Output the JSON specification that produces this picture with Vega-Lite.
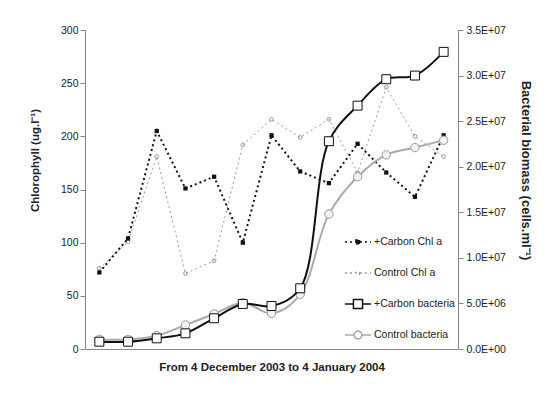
{
  "$schema": "https://vega.github.io/schema/vega-lite/v6.json",
  "width": 373,
  "height": 319,
  "autosize": {"type": "none"},
  "padding": {"left": 85, "top": 30, "right": 88, "bottom": 45},
  "background": "white",
  "config": {
    "font": "Liberation Sans",
    "view": {"stroke": null},
    "axis": {"grid": false, "domainColor": "#888", "tickColor": "#888", "labelColor": "#222", "titleColor": "#222", "labelFontSize": 10.5, "titleFontSize": 11.5, "titleFontWeight": "bold", "labelFont": "Liberation Sans", "titleFont": "Liberation Sans"}
  },
  "data": {"values": [
    {"day": 1, "series": "+Carbon Chl a", "value": 72},
    {"day": 2, "series": "+Carbon Chl a", "value": 104},
    {"day": 3, "series": "+Carbon Chl a", "value": 205},
    {"day": 4, "series": "+Carbon Chl a", "value": 151},
    {"day": 5, "series": "+Carbon Chl a", "value": 162},
    {"day": 6, "series": "+Carbon Chl a", "value": 100},
    {"day": 7, "series": "+Carbon Chl a", "value": 201},
    {"day": 8, "series": "+Carbon Chl a", "value": 167},
    {"day": 9, "series": "+Carbon Chl a", "value": 156},
    {"day": 10, "series": "+Carbon Chl a", "value": 193},
    {"day": 11, "series": "+Carbon Chl a", "value": 166},
    {"day": 12, "series": "+Carbon Chl a", "value": 143},
    {"day": 13, "series": "+Carbon Chl a", "value": 201},
    {"day": 1, "series": "Control Chl a", "value": 76},
    {"day": 2, "series": "Control Chl a", "value": 101},
    {"day": 3, "series": "Control Chl a", "value": 181},
    {"day": 4, "series": "Control Chl a", "value": 71},
    {"day": 5, "series": "Control Chl a", "value": 83},
    {"day": 6, "series": "Control Chl a", "value": 192},
    {"day": 7, "series": "Control Chl a", "value": 216},
    {"day": 8, "series": "Control Chl a", "value": 199},
    {"day": 9, "series": "Control Chl a", "value": 216},
    {"day": 10, "series": "Control Chl a", "value": 166},
    {"day": 11, "series": "Control Chl a", "value": 246},
    {"day": 12, "series": "Control Chl a", "value": 200},
    {"day": 13, "series": "Control Chl a", "value": 181},
    {"day": 1, "series": "+Carbon bacteria", "value": 800000},
    {"day": 2, "series": "+Carbon bacteria", "value": 800000},
    {"day": 3, "series": "+Carbon bacteria", "value": 1170000},
    {"day": 4, "series": "+Carbon bacteria", "value": 1720000},
    {"day": 5, "series": "+Carbon bacteria", "value": 3370000},
    {"day": 6, "series": "+Carbon bacteria", "value": 4940000},
    {"day": 7, "series": "+Carbon bacteria", "value": 4720000},
    {"day": 8, "series": "+Carbon bacteria", "value": 6660000},
    {"day": 9, "series": "+Carbon bacteria", "value": 22800000},
    {"day": 10, "series": "+Carbon bacteria", "value": 26700000},
    {"day": 11, "series": "+Carbon bacteria", "value": 29600000},
    {"day": 12, "series": "+Carbon bacteria", "value": 30000000},
    {"day": 13, "series": "+Carbon bacteria", "value": 32600000},
    {"day": 1, "series": "Control bacteria", "value": 1050000},
    {"day": 2, "series": "Control bacteria", "value": 1050000},
    {"day": 3, "series": "Control bacteria", "value": 1460000},
    {"day": 4, "series": "Control bacteria", "value": 2630000},
    {"day": 5, "series": "Control bacteria", "value": 3840000},
    {"day": 6, "series": "Control bacteria", "value": 5080000},
    {"day": 7, "series": "Control bacteria", "value": 3910000},
    {"day": 8, "series": "Control bacteria", "value": 6000000},
    {"day": 9, "series": "Control bacteria", "value": 14800000},
    {"day": 10, "series": "Control bacteria", "value": 18900000},
    {"day": 11, "series": "Control bacteria", "value": 21300000},
    {"day": 12, "series": "Control bacteria", "value": 22100000},
    {"day": 13, "series": "Control bacteria", "value": 22900000}
  ]},
  "encoding": {
    "x": {"field": "day", "type": "quantitative", "scale": {"domain": [0.5, 13.5], "nice": false, "zero": false},
      "axis": {"title": "From 4 December 2003 to 4 January 2004", "labels": false, "ticks": false, "titlePadding": 12, "titleFontSize": 11.5}}
  },
  "layer": [
    {
      "transform": [{"filter": "datum.series == '+Carbon Chl a' || datum.series == 'Control Chl a'"}],
      "encoding": {
        "y": {"field": "value", "type": "quantitative", "scale": {"domain": [0, 300], "nice": false},
          "axis": {"title": "Chlorophyll (ug.l⁻¹)", "values": [0, 50, 100, 150, 200, 250, 300], "tickSize": 5, "labelPadding": 2, "titleX": -50, "titleY": 130, "titleBaseline": "middle", "titleAngle": -90}}
      },
      "layer": [
        {
          "transform": [{"filter": "datum.series == 'Control Chl a'"}],
          "mark": {"type": "line", "strokeDash": [2, 3], "strokeWidth": 1},
          "encoding": {
            "color": {"field": "series", "type": "nominal",
              "scale": {"domain": ["+Carbon Chl a", "Control Chl a", "+Carbon bacteria", "Control bacteria"], "range": ["#111111", "#999999", "#111111", "#aaaaaa"]},
              "legend": {
                "orient": "none", "legendX": 259, "legendY": 199, "title": null, "padding": 0, "rowPadding": 5, "clipHeight": 26,
                "symbolSize": 676, "symbolStrokeWidth": 1.5, "labelFont": "Liberation Sans", "labelFontSize": 10.5, "labelColor": "#222", "labelOffset": 2,
                "encode": {"symbols": {"update": {
                  "shape": {"signal": "datum.value == '+Carbon Chl a' ? 'M-1,0H1M-0.16,-0.16H0.16V0.16H-0.16Z' : datum.value == 'Control Chl a' ? 'M-1,0H-0.14M0.14,0H1M0.14,0A0.14,0.14 0 1,1 -0.14,0A0.14,0.14 0 1,1 0.14,0Z' : datum.value == '+Carbon bacteria' ? 'M-1,0H-0.35M0.35,0H1M-0.35,-0.35H0.35V0.35H-0.35Z' : 'M-1,0H-0.3M0.3,0H1M0.3,0A0.3,0.3 0 1,1 -0.3,0A0.3,0.3 0 1,1 0.3,0Z'"},
                  "fill": {"signal": "datum.value == '+Carbon Chl a' ? '#111111' : '#ffffff'"},
                  "stroke": {"signal": "datum.value == '+Carbon Chl a' || datum.value == '+Carbon bacteria' ? '#111111' : '#999999'"},
                  "strokeDash": {"signal": "datum.value == '+Carbon Chl a' || datum.value == 'Control Chl a' ? [2, 3] : [1, 0]"},
                  "opacity": {"value": 1}
                }}}
              }}
          }
        },
        {
          "transform": [{"filter": "datum.series == 'Control Chl a'"}],
          "mark": {"type": "point", "shape": "circle", "filled": false, "color": "#999999", "size": 14, "strokeWidth": 1, "opacity": 1}
        },
        {
          "transform": [{"filter": "datum.series == '+Carbon Chl a'"}],
          "mark": {"type": "line", "strokeDash": [2, 3], "strokeWidth": 2},
          "encoding": {"color": {"field": "series", "type": "nominal"}}
        },
        {
          "transform": [{"filter": "datum.series == '+Carbon Chl a'"}],
          "mark": {"type": "point", "shape": "square", "filled": true, "color": "#111111", "size": 18, "opacity": 1}
        }
      ]
    },
    {
      "transform": [{"filter": "datum.series == '+Carbon bacteria' || datum.series == 'Control bacteria'"}],
      "encoding": {
        "y": {"field": "value", "type": "quantitative", "scale": {"domain": [0, 35000000], "nice": false},
          "axis": {"orient": "right", "title": "Bacterial biomass (cells.ml⁻¹)", "values": [0, 5000000, 10000000, 15000000, 20000000, 25000000, 30000000, 35000000],
            "labelExpr": "datum.value == 0 ? '0.0E+00' : format(datum.value / pow(10, floor(log(datum.value) / LN10 + 1e-9)), '.1f') + 'E+' + (floor(log(datum.value) / LN10 + 1e-9) < 10 ? '0' : '') + floor(log(datum.value) / LN10 + 1e-9)",
            "tickSize": 5, "labelPadding": 3, "titleX": 67, "titleY": 140, "titleBaseline": "middle", "titleAngle": 90, "titleFontSize": 13}}
      },
      "layer": [
        {
          "transform": [{"filter": "datum.series == 'Control bacteria'"}],
          "mark": {"type": "line", "interpolate": "catmull-rom", "strokeWidth": 2},
          "encoding": {"color": {"field": "series", "type": "nominal"}}
        },
        {
          "transform": [{"filter": "datum.series == 'Control bacteria'"}],
          "mark": {"type": "point", "shape": "circle", "filled": true, "fill": "#f2f2f2", "stroke": "#999999", "strokeWidth": 1, "size": 70, "opacity": 1}
        },
        {
          "transform": [{"filter": "datum.series == '+Carbon bacteria'"}],
          "mark": {"type": "line", "interpolate": "catmull-rom", "strokeWidth": 2},
          "encoding": {"color": {"field": "series", "type": "nominal"}}
        },
        {
          "transform": [{"filter": "datum.series == '+Carbon bacteria'"}],
          "mark": {"type": "point", "shape": "square", "filled": true, "fill": "#ffffff", "stroke": "#111111", "strokeWidth": 1, "size": 80, "opacity": 1}
        }
      ]
    }
  ],
  "resolve": {"scale": {"y": "independent"}}
}
